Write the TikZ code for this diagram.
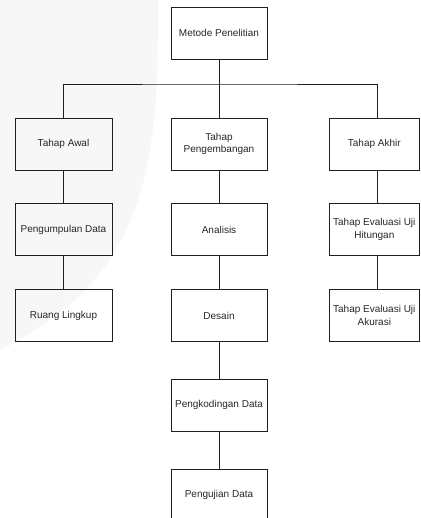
\documentclass[tikz,border=0pt]{standalone}
\usepackage{fontspec}
\setmainfont{Liberation Sans}
\begin{document}
\begin{tikzpicture}[x=1pt,y=-1pt,
  box/.style={draw=black!88, line width=0.9pt, minimum width=96pt, minimum height=52pt, inner sep=0pt, align=center, font=\fontsize{10}{12.3}\selectfont, text=black!85},
  rbox/.style={box, minimum width=90.5pt},
  conn/.style={draw=black!88, line width=0.9pt}]
\useasboundingbox (0,0) rectangle (420,518);
\fill[black!3] (0,0) -- (158,0) .. controls (160,180) and (140,280) .. (0,350) -- cycle;

\node[box] (m) at (219,33) {Metode Penelitian};
\node[box, minimum width=97pt] (awal) at (63.5,144) {Tahap Awal};
\node[box] (peng) at (219,144) {Tahap\\Pengembangan};
\node[rbox] (akhir) at (374.3,144) {Tahap Akhir};

\node[box, minimum width=97pt] (kumpul) at (63.5,229.5) {Pengumpulan Data};
\node[box] (anal) at (219,229.5) {Analisis};
\node[rbox] (hit) at (374.3,229.5) {Tahap Evaluasi Uji\\Hitungan};

\node[box, minimum width=97pt] (ruang) at (63.5,315.5) {Ruang Lingkup};
\node[box] (desain) at (219,315.5) {Desain};
\node[rbox] (akur) at (374.3,315.5) {Tahap Evaluasi Uji\\Akurasi};

\node[box] (kode) at (219,405) {Pengkodingan Data};
\node[box] (uji) at (219,495) {Pengujian Data};

\coordinate (bus) at (219,84);
\coordinate (busr) at (377,84);
\draw[conn] (m) -- (peng);
\draw[conn] (awal.north) |- (bus) -- (busr) -- (busr |- akhir.north);
\draw[conn] (awal) -- (kumpul);
\draw[conn] (kumpul) -- (ruang);
\draw[conn] (peng) -- (anal);
\draw[conn] (anal) -- (desain);
\draw[conn] (desain) -- (kode);
\draw[conn] (kode) -- (uji);
\draw[conn] (busr |- akhir.south) -- (busr |- hit.north);
\draw[conn] (busr |- hit.south) -- (busr |- akur.north);
\end{tikzpicture}
\end{document}
